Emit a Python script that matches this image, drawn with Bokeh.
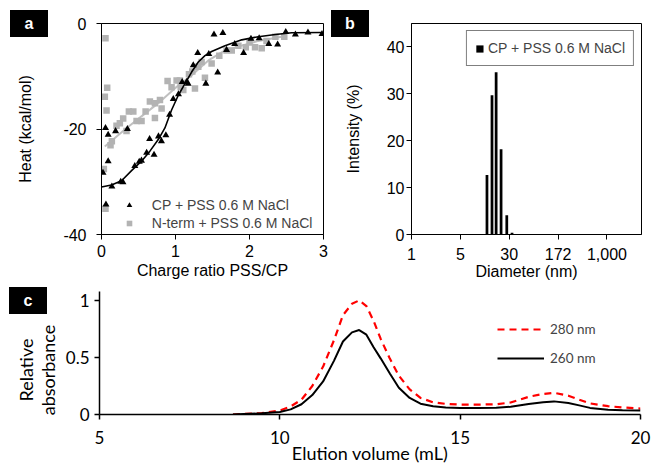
from math import log10
from bokeh.plotting import figure
from bokeh.models import Range1d, FixedTicker, Legend, LegendItem, Div
from bokeh.layouts import column, row
from bokeh.embed import file_html
from bokeh.resources import INLINE

ARIAL = "Liberation Sans"
CALIBRI = "Lato"

# ---------------- Panel a : ITC ----------------
cp_ratio = [0.02, 0.054, 0.06, 0.09, 0.09, 0.14, 0.19, 0.26, 0.29, 0.35, 0.45, 0.51, 0.54,
            0.61, 0.65, 0.71, 0.77, 0.81, 0.87, 0.92, 0.97, 1.04, 1.09, 1.15, 1.17, 1.24,
            1.30, 1.41, 1.45, 1.52, 1.57, 1.64, 1.69, 1.80, 1.92, 2.02, 2.13, 2.26, 2.38,
            2.49, 2.62, 2.79, 2.98]
cp_heat = [-28.3, -19.8, -34.3, -21.1, -26.1, -30.9, -20.4, -30.0, -30.1, -20.0, -27.0, -26.2, -26.0,
           -24.5, -21.9, -24.9, -21.4, -22.3, -21.2, -17.3, -14.3, -13.4, -11.1, -11.1, -11.4, -7.9,
           -5.6, -11.4, -5.8, -2.1, -9.3, -1.8, -5.0, -3.9, -5.6, -2.9, -2.8, -3.9, -4.0,
           -1.6, -2.1, -1.7, -2.0]
nterm_ratio = [0.054, 0.045, 0.077, 0.068, 0.032, 0.054, 0.122, 0.14, 0.203, 0.248, 0.293, 0.338,
               0.37, 0.43, 0.474, 0.541, 0.596, 0.654, 0.722, 0.722, 0.79, 0.812, 0.893, 0.947,
               1.015, 1.06, 1.07, 1.105, 1.182, 1.227, 1.263, 1.308, 1.353, 1.398, 1.488, 1.592,
               1.69, 1.76, 1.85, 1.95, 2.0, 2.075, 2.165, 2.23, 2.35, 2.47]
nterm_heat = [-2.8, -13.9, -12.2, -16.5, -27.6, -35.1, -23.1, -22.3, -19.4, -18.9, -18.0, -20.4,
              -16.7, -16.7, -18.5, -18.5, -16.7, -14.8, -15.1, -17.9, -14.5, -16.1, -10.9, -12.1,
              -10.8, -10.8, -12.1, -12.6, -9.6, -9.1, -12.3, -8.2, -7.3, -10.3, -7.6, -6.1,
              -5.1, -5.1, -4.2, -4.5, -3.6, -4.5, -4.7, -3.3, -2.5, -2.5]
cp_fit_ratio = [0.0, 0.135, 0.271, 0.406, 0.541, 0.654, 0.767, 0.857, 0.947, 1.038, 1.128, 1.218,
                1.308, 1.398, 1.488, 1.669, 1.895, 2.12, 2.35, 2.57, 2.98]
cp_fit_heat = [-31.0, -30.6, -29.8, -27.9, -26.1, -24.2, -22.0, -19.8, -16.4, -13.6, -11.4, -9.2,
               -7.3, -6.1, -5.3, -4.2, -3.1, -2.5, -2.1, -1.75, -1.7]
nterm_fit_ratio = [0.045, 0.316, 0.54, 0.767, 0.99, 1.218, 1.444, 1.67, 1.895, 2.12, 2.47]
nterm_fit_heat = [-23.3, -20.1, -17.6, -15.1, -12.3, -9.8, -7.0, -5.1, -4.2, -3.3, -2.4]
ratio_ticks = [0, 1, 2, 3]
heat_ticks = [-40, -20, 0]

# ---------------- Panel b : DLS ----------------
dls_diameter_nm = [14.4, 17.2, 19.9, 23.7, 29.0, 34.9]
dls_intensity = [12.7, 29.7, 34.6, 18.2, 4.1, 0.35]
diam_tick_pos = [0.0, 0.75, 1.5, 2.25, 3.0]          # log10(diameter)
diam_tick_labels = ["1", "5", "30", "172", "1,000"]
intensity_ticks = [0, 10, 20, 30, 40]

# ---------------- Panel c : SEC ----------------
elution_ml = [8.7, 9.0, 9.5, 10.0, 10.3, 10.6, 10.9, 11.2, 11.5, 11.75, 12.0, 12.2, 12.4, 12.6,
              12.8, 13.05, 13.3, 13.6, 13.9, 14.25, 14.6, 15.0, 15.5, 16.0, 16.4, 16.9, 17.3,
              17.6, 18.0, 18.3, 18.6, 19.1, 19.5, 20.0]
abs_280 = [0.0, 0.005, 0.012, 0.035, 0.07, 0.13, 0.25, 0.42, 0.65, 0.87, 0.97, 1.0, 0.95, 0.82,
           0.66, 0.49, 0.34, 0.22, 0.145, 0.107, 0.093, 0.087, 0.087, 0.09, 0.105, 0.155, 0.18,
           0.19, 0.165, 0.13, 0.097, 0.073, 0.062, 0.052]
abs_260 = [0.0, 0.004, 0.01, 0.022, 0.045, 0.09, 0.17, 0.29, 0.47, 0.64, 0.72, 0.74, 0.70, 0.59,
           0.49, 0.36, 0.235, 0.145, 0.095, 0.072, 0.062, 0.058, 0.056, 0.06, 0.068, 0.092, 0.108,
           0.115, 0.1, 0.08, 0.058, 0.042, 0.038, 0.036]
elution_ticks = [5, 10, 15, 20]
abs_ticks = [0, 0.5, 1]


def style_axes(p, font, size, xstand, ystand, lw=1):
    for ax in (p.xaxis[0], p.yaxis[0]):
        ax.axis_line_color = "black"
        ax.axis_line_width = lw
        ax.major_tick_line_color = "black"
        ax.major_tick_line_width = lw
        ax.major_tick_out = 5
        ax.major_tick_in = 0
        ax.minor_tick_line_color = None
        ax.major_label_text_font = font
        ax.major_label_text_font_size = size
        ax.major_label_text_color = "black"
        ax.axis_label_text_font_style = "normal"
        ax.axis_label_text_color = "black"
    p.xaxis[0].major_label_standoff = xstand
    p.yaxis[0].major_label_standoff = ystand
    p.xgrid.grid_line_color = None
    p.ygrid.grid_line_color = None


def set_label(ax, text, font, size, standoff):
    ax.axis_label = text
    ax.axis_label_text_font = font
    ax.axis_label_text_font_size = size
    ax.axis_label_standoff = standoff


def floating(html, left, top, width, height, extra=None):
    styles = {"position": "absolute", "left": f"{left}px", "top": f"{top}px",
              "z-index": "10", "margin": "0", "padding": "0"}
    if extra:
        styles.update(extra)
    return Div(text=html, width=width, height=height, styles=styles)


def tag(letter, left, top):
    html = ('<div style="width:38px;height:27px;background:#000;color:#fff;'
            "font-family:'Liberation Sans';font-weight:bold;font-size:16px;"
            'text-align:center;line-height:27px;">' + letter + '</div>')
    return floating(html, left, top, 38, 27)


# ---------- figure a ----------
pa = figure(width=330, height=290, output_backend="svg", toolbar_location=None, title=None,
            x_range=Range1d(0, 3), y_range=Range1d(-40, 0),
            min_border_left=101, min_border_right=7, min_border_top=23, min_border_bottom=56)
pa.outline_line_color = "black"
pa.outline_line_width = 1
style_axes(pa, ARIAL, "16px", 5, 10)
pa.xaxis.ticker = FixedTicker(ticks=ratio_ticks)
pa.yaxis.ticker = FixedTicker(ticks=heat_ticks)
pa.yaxis.major_label_overrides = {t: str(t) for t in heat_ticks}
set_label(pa.xaxis[0], "Charge ratio PSS/CP", ARIAL, "16px", 2)
set_label(pa.yaxis[0], "Heat (kcal/mol)", ARIAL, "16px", 26)

pa.line(nterm_fit_ratio, nterm_fit_heat, line_color="#c0c0c0", line_width=2)
r_nt = pa.scatter(nterm_ratio, nterm_heat, marker="square", size=6.5,
                  fill_color="#b3b3b3", line_color=None)
pa.line(cp_fit_ratio, cp_fit_heat, line_color="black", line_width=1.6)
r_cp = pa.scatter(cp_ratio, cp_heat, marker="triangle", size=7,
                  fill_color="black", line_color=None)

leg_a = Legend(items=[LegendItem(label="CP + PSS 0.6 M NaCl", renderers=[r_cp]),
                      LegendItem(label="N-term + PSS 0.6 M NaCl", renderers=[r_nt])],
               location=(20.8, 2), padding=0, margin=0, spacing=0,
               glyph_width=14, glyph_height=18, label_height=18, label_standoff=16,
               label_text_font=ARIAL, label_text_font_size="14px",
               border_line_color=None, background_fill_alpha=0)
pa.add_layout(leg_a)

# ---------- figure b ----------
pb = figure(width=322, height=290, output_backend="svg", toolbar_location=None, title=None,
            x_range=Range1d(0, 3.53), y_range=Range1d(0, 45),
            min_border_left=81, min_border_right=11, min_border_top=23, min_border_bottom=53)
pb.outline_line_color = "black"
pb.outline_line_width = 1
style_axes(pb, ARIAL, "16px", 8, 2)
pb.xaxis.ticker = FixedTicker(ticks=diam_tick_pos)
pb.xaxis.major_label_overrides = dict(zip(diam_tick_pos, diam_tick_labels))
pb.yaxis.ticker = FixedTicker(ticks=intensity_ticks)
set_label(pb.xaxis[0], "Diameter (nm)", ARIAL, "16px", 0)
set_label(pb.yaxis[0], "Intensity (%)", ARIAL, "16px", 22)
log_d = [log10(d) for d in dls_diameter_nm]
r_bar = pb.vbar(x=log_d, top=dls_intensity, bottom=0, width=0.042,
                fill_color="black", line_color=None)
leg_b = Legend(items=[LegendItem(label="CP + PSS 0.6 M NaCl", renderers=[r_bar])],
               location="top_right", margin=7, padding=8, spacing=0,
               glyph_width=9, glyph_height=9, label_height=18, label_standoff=4,
               label_text_font=ARIAL, label_text_font_size="14px",
               border_line_color="black", border_line_width=1.2, background_fill_color="white")
pb.add_layout(leg_b)

# ---------- figure c ----------
pc = figure(width=652, height=176, output_backend="svg", toolbar_location=None, title=None,
            x_range=Range1d(5, 20), y_range=Range1d(0, 1.078),
            min_border_left=99, min_border_right=12, min_border_top=1, min_border_bottom=51)
pc.outline_line_color = None
style_axes(pc, CALIBRI, "17px", 11, 5, lw=1.5)
pc.xaxis.ticker = FixedTicker(ticks=elution_ticks)
pc.yaxis.ticker = FixedTicker(ticks=abs_ticks)
pc.yaxis.major_label_overrides = {0: "0", 0.5: "0.5", 1: "1"}
set_label(pc.xaxis[0], "Elution volume (mL)", CALIBRI, "18px", -5)
r280 = pc.line(elution_ml, abs_280, line_color="#ff0000", line_width=2.2, line_dash="7 5")
r260 = pc.line(elution_ml, abs_260, line_color="black", line_width=2)
leg_c = Legend(items=[LegendItem(label="280 nm", renderers=[r280]),
                      LegendItem(label="260 nm", renderers=[r260])],
               location=(398, 46), padding=0, margin=0, spacing=9,
               glyph_width=47, glyph_height=20, label_height=20, label_standoff=6,
               label_text_font=CALIBRI, label_text_font_size="13.5px",
               border_line_color=None, background_fill_alpha=0)
pc.add_layout(leg_c)

# y title of panel c (two lines, rotated, sitting lower than the axis centre as in the source)
c_ytitle = floating(
    "<div style=\"width:120px;height:44px;font-family:'Lato';font-size:18px;"
    "line-height:21.6px;text-align:center;color:#000;white-space:nowrap;\">"
    "Relative<br>absorbance</div>",
    -22.5, 347.5, 120, 44, {"transform": "rotate(-90deg)"})

layout = column(row(pa, pb), pc, tag("a", 10, 10), tag("b", 331, 10), tag("c", 9, 287),
                c_ytitle)
open("out.html", "w").write(file_html(layout, INLINE))
